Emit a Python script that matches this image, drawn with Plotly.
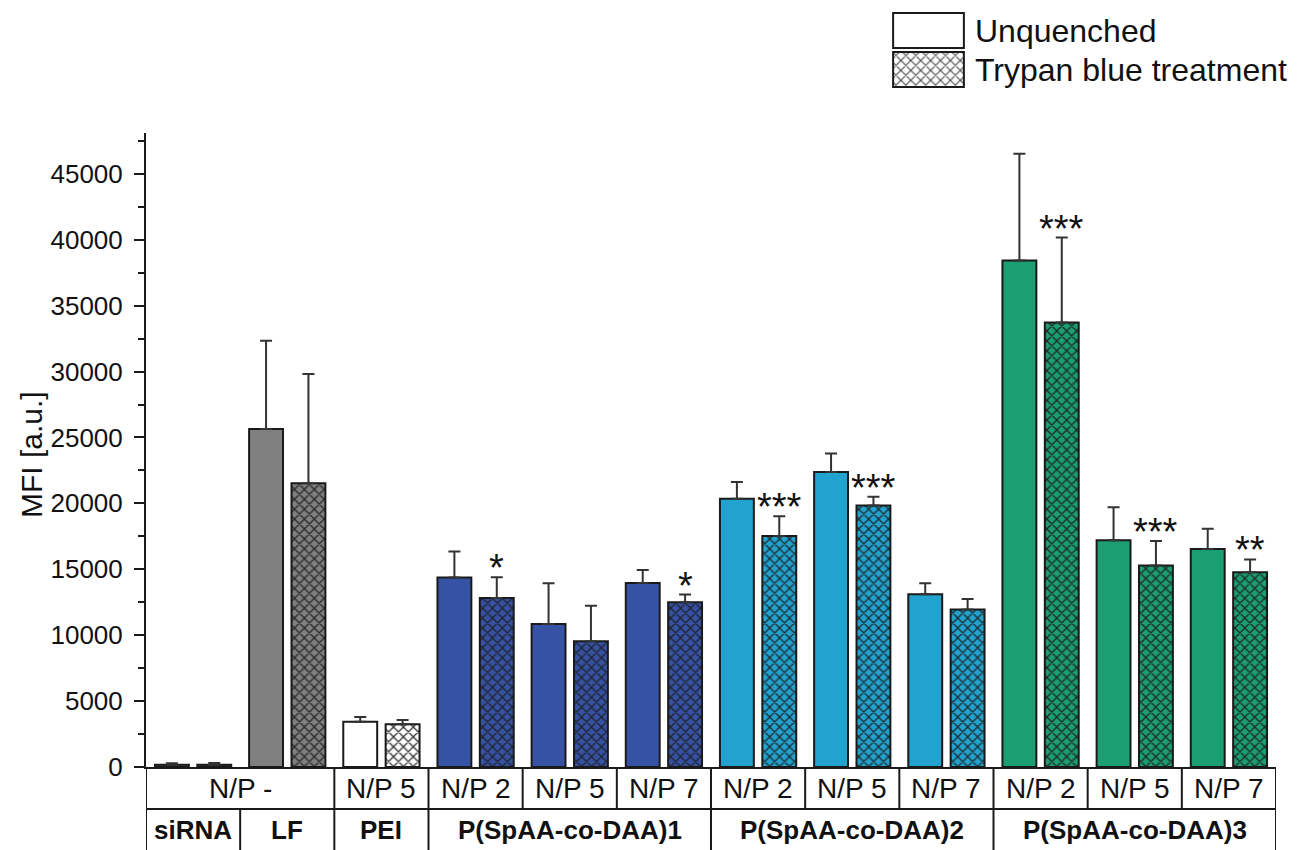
import plotly.graph_objects as go

# ---------------- data ----------------
groups = ["siRNA", "LF", "PEI",
          "P1 N/P 2", "P1 N/P 5", "P1 N/P 7",
          "P2 N/P 2", "P2 N/P 5", "P2 N/P 7",
          "P3 N/P 2", "P3 N/P 5", "P3 N/P 7"]
unquenched = [170, 25650, 3440, 14370, 10850, 13960, 20360, 22385, 13100, 38420, 17200, 16540]
unquenched_err = [120, 6680, 350, 1970, 3090, 990, 1270, 1390, 840, 8100, 2500, 1540]
trypan = [180, 21530, 3240, 12830, 9540, 12500, 17530, 19830, 11940, 33715, 15280, 14770]
trypan_err = [120, 8290, 330, 1570, 2700, 580, 1490, 680, 810, 6450, 1870, 980]
stars = ["", "", "", "*", "", "*", "***", "***", "", "***", "***", "**"]
bar_colors = ["#5a5a5a", "#808080", "#ffffff",
              "#3652a4", "#3652a4", "#3652a4",
              "#22a3cf", "#22a3cf", "#22a3cf",
              "#1b9e72", "#1b9e72", "#1b9e72"]
np_labels = [("N/P -", 0.5), ("N/P 5", 2), ("N/P 2", 3), ("N/P 5", 4), ("N/P 7", 5),
             ("N/P 2", 6), ("N/P 5", 7), ("N/P 7", 8), ("N/P 2", 9), ("N/P 5", 10), ("N/P 7", 11)]
material_labels = [("siRNA", 0), ("LF", 1), ("PEI", 2), ("P(SpAA-co-DAA)1", 4),
                   ("P(SpAA-co-DAA)2", 7), ("P(SpAA-co-DAA)3", 10)]
row1_dividers = [1.5, 2.5, 3.5, 4.5, 5.5, 6.5, 7.5, 8.5, 9.5, 10.5, 11.5]
row2_dividers = [0.5, 1.5, 2.5, 5.5, 8.5, 11.5]
legend_names = ["Unquenched", "Trypan blue treatment"]
y_title = "MFI [a.u.]"

# ---------------- layout helpers (pixels -> paper) ----------------
W, H = 1299, 850
L, R, B = 146, 1276, 767   # plot left/right edge, bottom of plot (margin top = 0)
PLOT_TOP = 133

def px(xp):
    return (xp - L) / (R - L)

def py(yp):
    return (B - yp) / B

FONT = "Liberation Sans, Arial, Helvetica, sans-serif"
LINE = "#1a1a1a"
TXT = "#111111"
BAR_W = 0.36
HALF_SEP = 0.225
x = list(range(len(groups)))

def hatch():
    return dict(shape="x", fillmode="overlay", fgcolor="#1c1c1c",
                fgopacity=0.9, size=7, solidity=0.33)

def err(v):
    return dict(type="data", symmetric=False, array=[v], arrayminus=[0],
                color="#333333", thickness=2, width=6)

fig = go.Figure()
for i in x:
    fig.add_trace(go.Bar(
        x=[i], y=[unquenched[i]], name=legend_names[0], showlegend=False,
        width=BAR_W, offset=-HALF_SEP - BAR_W / 2,
        marker=dict(color=bar_colors[i], line=dict(color=LINE, width=2)),
        error_y=err(unquenched_err[i]),
    ))
    fig.add_trace(go.Bar(
        x=[i], y=[trypan[i]], name=legend_names[1], showlegend=False,
        width=BAR_W, offset=HALF_SEP - BAR_W / 2,
        marker=dict(color=bar_colors[i], line=dict(color=LINE, width=2), pattern=hatch()),
        error_y=err(trypan_err[i]),
    ))

# legend as an inset bar chart
fig.add_trace(go.Bar(
    x=[1], y=[0], orientation="h", width=0.9, showlegend=False,
    xaxis="x2", yaxis="y2", hoverinfo="skip",
    marker=dict(color="#ffffff", line=dict(color=LINE, width=2)),
))
fig.add_trace(go.Bar(
    x=[1], y=[1], orientation="h", width=0.9, showlegend=False,
    xaxis="x2", yaxis="y2", hoverinfo="skip",
    marker=dict(color="#ffffff", line=dict(color=LINE, width=2),
                pattern=dict(shape="x", fillmode="overlay", fgcolor="#333333",
                             fgopacity=0.9, size=7, solidity=0.3)),
))

annotations = []
# significance stars
for i in x:
    if stars[i]:
        annotations.append(dict(
            x=i + HALF_SEP, y=trypan[i] + trypan_err[i], xref="x", yref="y",
            text=stars[i], showarrow=False, yanchor="bottom", yshift=-14,
            font=dict(family=FONT, size=38, color=TXT)))
# table labels
for txt, xc in np_labels:
    annotations.append(dict(x=xc, y=py(788), xref="x", yref="paper", text=txt,
                            showarrow=False, yanchor="middle",
                            font=dict(family=FONT, size=28, color=TXT)))
for txt, xc in material_labels:
    annotations.append(dict(x=xc, y=py(830), xref="x", yref="paper", text="<b>" + txt + "</b>",
                            showarrow=False, yanchor="middle",
                            font=dict(family=FONT, size=26, color=TXT)))
# legend text
annotations.append(dict(x=px(973), y=py(31), xref="paper", yref="paper", text=legend_names[0],
                        showarrow=False, xanchor="left", yanchor="middle",
                        font=dict(family=FONT, size=32, color=TXT)))
annotations.append(dict(x=px(973), y=py(70), xref="paper", yref="paper", text=legend_names[1],
                        showarrow=False, xanchor="left", yanchor="middle",
                        font=dict(family=FONT, size=32, color=TXT)))
# y-axis title
annotations.append(dict(x=px(31), y=py(455), xref="paper", yref="paper", text=y_title,
                        showarrow=False, textangle=-90, xanchor="center", yanchor="middle",
                        font=dict(family=FONT, size=30, color=TXT)))

shapes = []
line_style = dict(color=LINE, width=2)
# table outline
shapes.append(dict(type="line", xref="x", yref="paper", x0=-0.5, x1=11.5, y0=py(809), y1=py(809), line=line_style))
shapes.append(dict(type="line", xref="x", yref="paper", x0=-0.5, x1=-0.5, y0=py(767), y1=py(850), line=line_style))
for d in row1_dividers:
    shapes.append(dict(type="line", xref="x", yref="paper", x0=d, x1=d, y0=py(767), y1=py(809), line=line_style))
for d in row2_dividers:
    shapes.append(dict(type="line", xref="x", yref="paper", x0=d, x1=d, y0=py(809), y1=py(850), line=line_style))

fig.update_layout(
    width=W, height=H,
    margin=dict(l=L, r=W - R, t=0, b=H - B, pad=0),
    paper_bgcolor="white", plot_bgcolor="white",
    barmode="overlay",
    showlegend=False,
    font=dict(family=FONT, color=TXT),
    annotations=annotations, shapes=shapes,
    xaxis=dict(range=[-0.5, 11.5], showticklabels=False, ticks="", showgrid=False,
               zeroline=False, showline=True, linecolor=LINE, linewidth=2,
               domain=[0, 1]),
    yaxis=dict(range=[0, 48100], domain=[0, py(PLOT_TOP)], dtick=5000, tick0=0,
               tickformat="d",
               ticks="outside", ticklen=10, tickwidth=2, tickcolor=LINE,
               minor=dict(ticks="outside", dtick=2500, ticklen=6, tickwidth=2, tickcolor=LINE),
               showgrid=False, zeroline=False, showline=True, linecolor=LINE, linewidth=2,
               tickfont=dict(family=FONT, size=26, color=TXT), ticklabelstandoff=6),
    xaxis2=dict(domain=[px(891), px(966)], range=[-0.03, 1.03], visible=False, anchor="y2"),
    yaxis2=dict(domain=[py(89), py(11)], range=[1.5, -0.5], visible=False, anchor="x2"),
)

fig.write_html("out.html", config={"displayModeBar": False},
               post_script="document.body.style.margin='0';document.body.style.overflow='hidden';")
